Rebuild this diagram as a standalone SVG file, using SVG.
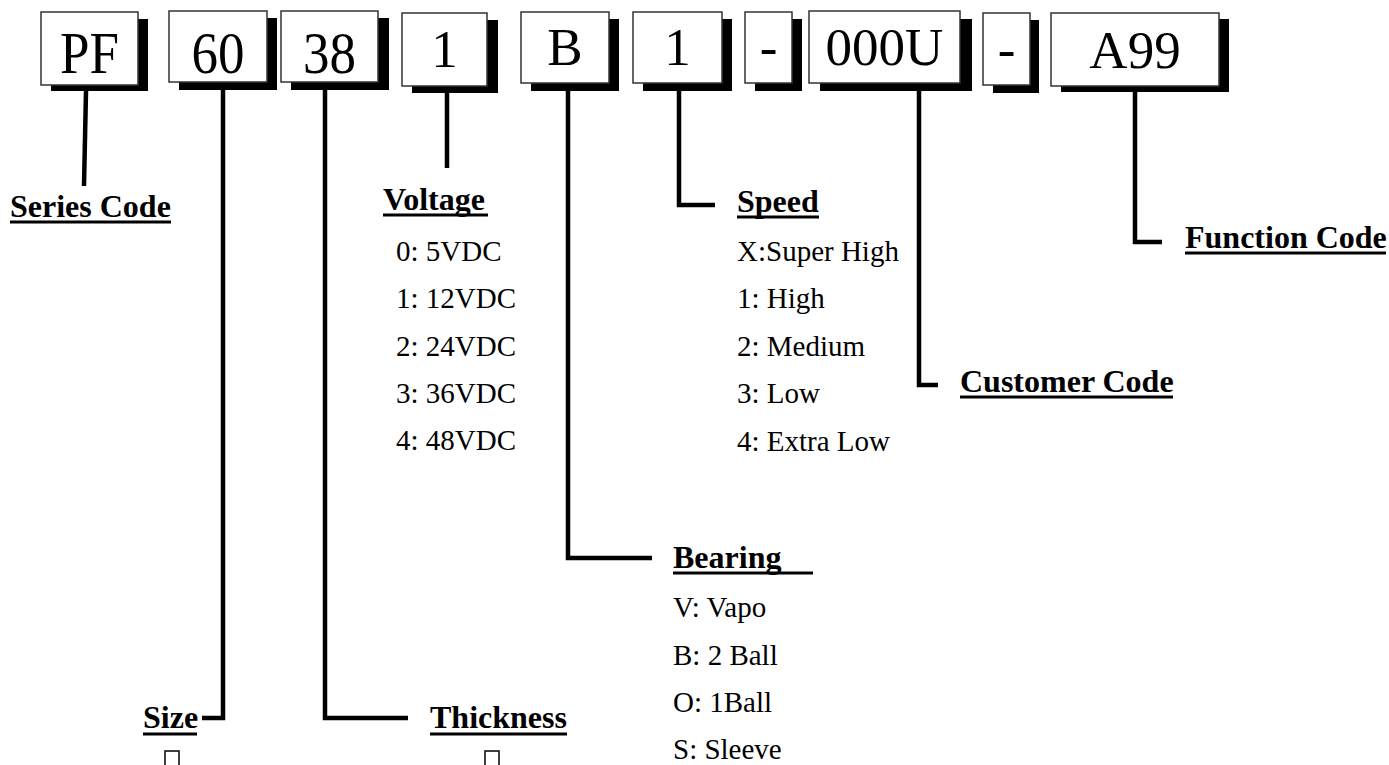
<svg xmlns="http://www.w3.org/2000/svg" width="1389" height="765" viewBox="0 0 1389 765">
<style>
.box{fill:#fff;stroke:#333;stroke-width:1.5}
.sh{fill:#000}
.code{font-family:"Liberation Serif",serif;font-size:53px;fill:#000;text-anchor:middle}
.lbl{font-family:"Liberation Serif",serif;font-size:32px;font-weight:bold;fill:#000}
.item{font-family:"Liberation Serif",serif;font-size:29px;fill:#000}
.ul{stroke:#000;stroke-width:3}
.conn{fill:none;stroke:#000;stroke-width:4.5;stroke-linejoin:miter;stroke-linecap:butt}
.tofu{fill:none;stroke:#000;stroke-width:1.5}
</style>
<rect width="1389" height="765" fill="#fff"/>
<g id="connectors">
<path class="conn" d="M86 91 L84 186"/>
<path class="conn" d="M223 90 V718 H202"/>
<path class="conn" d="M325 90 V718 H408"/>
<path class="conn" d="M447 93 V168"/>
<path class="conn" d="M568 91 V558 H652"/>
<path class="conn" d="M679 90 V205 H715"/>
<path class="conn" d="M919 90 V385 H938"/>
<path class="conn" d="M1135 92 V242 H1162"/>
</g>
<g id="box-pf"><rect class="sh" x="51" y="19" width="97" height="72"/><rect class="box" x="41" y="12" width="97" height="73"/><text class="code" transform="translate(89.5 73) scale(1 1.1)">PF</text></g>
<g id="box-60"><rect class="sh" x="179" y="18" width="98" height="72"/><rect class="box" x="169" y="11" width="98" height="71"/><text class="code" transform="translate(218 73) scale(1 1.1)">60</text></g>
<g id="box-38"><rect class="sh" x="291" y="18" width="98" height="72"/><rect class="box" x="281" y="11" width="97" height="71"/><text class="code" transform="translate(329.5 73) scale(1 1.1)">38</text></g>
<g id="box-1v"><rect class="sh" x="412" y="20" width="86" height="73"/><rect class="box" x="402" y="13" width="85" height="73"/><text class="code" x="444.5" y="67">1</text></g>
<g id="box-b"><rect class="sh" x="531" y="19" width="88" height="72"/><rect class="box" x="521" y="12" width="88" height="71"/><text class="code" x="565" y="65">B</text></g>
<g id="box-1s"><rect class="sh" x="643" y="19" width="89" height="72"/><rect class="box" x="633" y="12" width="89" height="71"/><text class="code" x="677.5" y="65">1</text></g>
<g id="box-dash1"><rect class="sh" x="755" y="19" width="47" height="72"/><rect class="box" x="745" y="12" width="47" height="71"/><text class="code" x="768.5" y="65">-</text></g>
<g id="box-000u"><rect class="sh" x="820" y="19" width="152" height="72"/><rect class="box" x="809" y="11" width="151" height="72"/><text class="code" x="884.5" y="65">000U</text></g>
<g id="box-dash2"><rect class="sh" x="993" y="20" width="46" height="73"/><rect class="box" x="983" y="13" width="47" height="72"/><text class="code" x="1006.5" y="67">-</text></g>
<g id="box-a99"><rect class="sh" x="1061" y="19" width="168" height="73"/><rect class="box" x="1051" y="13" width="168" height="73"/><text class="code" x="1135" y="68">A99</text></g>
<g id="label-series"><text class="lbl" x="10" y="217">Series Code</text><line class="ul" x1="10" y1="222" x2="171" y2="222"/></g>
<g id="label-size"><text class="lbl" x="143" y="728">Size</text><line class="ul" x1="143" y1="734" x2="197" y2="734"/><rect class="tofu" x="165" y="751" width="14" height="22"/></g>
<g id="label-thickness"><text class="lbl" x="430" y="728">Thickness</text><line class="ul" x1="430" y1="734" x2="567" y2="734"/><rect class="tofu" x="485" y="751" width="14" height="22"/></g>
<g id="label-voltage"><text class="lbl" x="383" y="210">Voltage</text><line class="ul" x1="383" y1="215" x2="488" y2="215"/>
<text class="item" x="396" y="261">0: 5VDC</text><text class="item" x="396" y="308">1: 12VDC</text><text class="item" x="396" y="356">2: 24VDC</text><text class="item" x="396" y="403">3: 36VDC</text><text class="item" x="396" y="450">4: 48VDC</text></g>
<g id="label-bearing"><text class="lbl" x="673" y="568">Bearing</text><line class="ul" x1="673" y1="573" x2="813" y2="573"/>
<text class="item" x="673" y="617">V: Vapo</text><text class="item" x="673" y="665">B: 2 Ball</text><text class="item" x="673" y="712">O: 1Ball</text><text class="item" x="673" y="759">S: Sleeve</text></g>
<g id="label-speed"><text class="lbl" x="737" y="212">Speed</text><line class="ul" x1="737" y1="217" x2="819" y2="217"/>
<text class="item" x="737" y="261">X:Super High</text><text class="item" x="737" y="308">1: High</text><text class="item" x="737" y="356">2: Medium</text><text class="item" x="737" y="403">3: Low</text><text class="item" x="737" y="451">4: Extra Low</text></g>
<g id="label-customer"><text class="lbl" x="960" y="392">Customer Code</text><line class="ul" x1="960" y1="397" x2="1173" y2="397"/></g>
<g id="label-function"><text class="lbl" x="1185" y="248">Function Code</text><line class="ul" x1="1185" y1="253" x2="1386" y2="253"/></g>
</svg>
